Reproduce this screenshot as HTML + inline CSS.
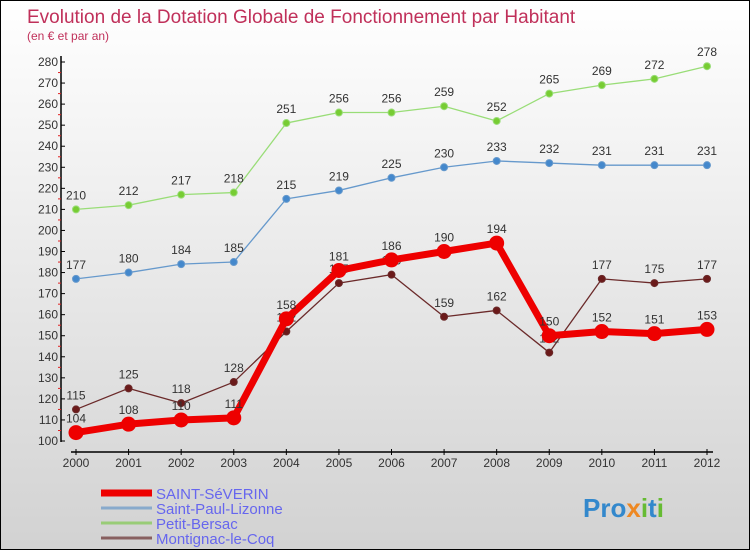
<!DOCTYPE html>
<html><head><meta charset="utf-8"><style>
body{margin:0;}
#c{width:750px;height:550px;position:relative;box-sizing:border-box;border:1px solid #000;background:linear-gradient(#ffffff,#d2d2d2);font-family:"Liberation Sans",sans-serif;overflow:hidden}
svg{position:absolute;left:0;top:0}
</style></head><body>
<div id="c">
<svg id="s" width="750" height="550">
<text x="26" y="22" font-size="19" fill="#c0305a">Evolution de la Dotation Globale de Fonctionnement par Habitant</text>
<text x="26" y="39" font-size="12" fill="#c0305a">(en € et par an)</text>
</svg>
</div>
<script>
const years=[2000,2001,2002,2003,2004,2005,2006,2007,2008,2009,2010,2011,2012];
const saintSeverin=[104,108,110,111,158,181,186,190,194,150,152,151,153];
const saintPaul=[177,180,184,185,215,219,225,230,233,232,231,231,231];
const petitBersac=[210,212,217,218,251,256,256,259,252,265,269,272,278];
const montignac=[115,125,118,128,152,175,179,159,162,142,177,175,177];
const yTicks=[100,110,120,130,140,150,160,170,180,190,200,210,220,230,240,250,260,270,280];
const ns="http://www.w3.org/2000/svg";
const svg=document.getElementById('s');
const xs=i=>75+i*(706-75)/(years.length-1);
const ys=v=>440-(v-100)*(440-61)/180;
function mk(t,a,p){const e=document.createElementNS(ns,t);for(const k in a)e.setAttribute(k,a[k]);(p||svg).appendChild(e);return e;}
// axes
let e=mk('line',{x1:60,y1:55,x2:60,y2:441,stroke:'#000','stroke-width':1.5});


e=mk('line',{x1:70,y1:451,x2:712,y2:451,stroke:'#000','stroke-width':1.5});


yTicks.forEach((v,i)=>{
 const y=ys(v);
 mk('line',{x1:60,y1:y,x2:64,y2:y,stroke:'#000'});
 if(i<yTicks.length-1){mk('line',{x1:57,y1:y-10.5,x2:60,y2:y-10.5,stroke:'#e02020'});}
 const t=mk('text',{x:57,y:y+4,'font-size':12,fill:'#333','text-anchor':'end'});
 t.textContent=v;
 
 
});
years.forEach((yr,i)=>{
 const x=xs(i);
 mk('line',{x1:x,y1:448,x2:x,y2:454,stroke:'#000'});
 const t=mk('text',{x:x,y:466,'font-size':12,fill:'#333','text-anchor':'middle'});
 t.textContent=yr;
 
 
});
function series(data,color,pt,w,r,name){
 const g=mk('g',{});
 
 
 mk('polyline',{points:data.map((v,i)=>xs(i)+','+ys(v)).join(' '),fill:'none',stroke:color,'stroke-width':w,'stroke-linejoin':'round'},g);
 data.forEach((v,i)=>{
  const c=mk('circle',{cx:xs(i),cy:ys(v),r:r,fill:pt,stroke:color,'stroke-width':1},g);
  
  
  const t=mk('text',{x:xs(i),y:ys(v)-10,'font-size':12,fill:'#333','text-anchor':'middle'},g);
  t.textContent=v;
  
  
 });
}
series(petitBersac,'#99dd77','#77cc33',1.3,3.5,'petit-bersac-series');
series(saintPaul,'#6699cc','#4488cc',1.3,3.5,'saint-paul-series');
series(montignac,'#6b2a2a','#6b1a1a',1.3,3.5,'montignac-series');
series(saintSeverin,'#ee0000','#ee0000',7,7,'saint-severin-series');
// legend
const leg=[['SAINT-SéVERIN','#ee0000',7],['Saint-Paul-Lizonne','#88aacc',3],['Petit-Bersac','#99cc77',3],['Montignac-le-Coq','#886060',3]];
leg.forEach((l,i)=>{
 const y=492+i*15;
 const g=mk('g',{});
 
 
 mk('line',{x1:100,y1:y,x2:151,y2:y,stroke:l[1],'stroke-width':l[2]},g);
 const t=mk('text',{x:155,y:y+6,'font-size':15,fill:'#6666ee'},g);
 t.textContent=l[0];
});
const lg=mk('text',{x:582,y:516,'font-size':26,'font-weight':'bold',fill:'#3388cc'});
lg.innerHTML='Pro<tspan fill="#ee8822">x</tspan><tspan fill="#66bb33">i</tspan>t<tspan fill="#66bb33">i</tspan>';


</script>
</body></html>
